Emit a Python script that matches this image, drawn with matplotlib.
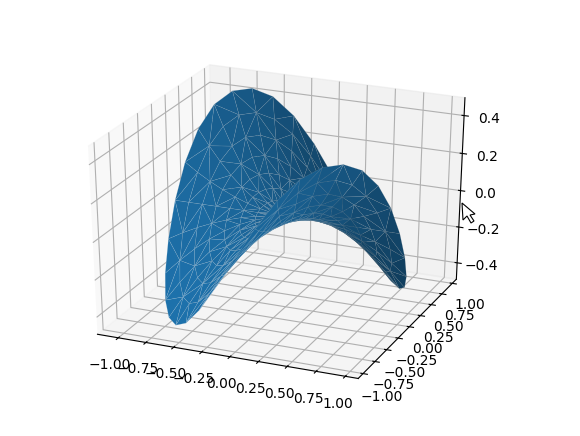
#!/usr/bin/env python3
# Triangulated saddle surface on a disk
import numpy as np
import matplotlib
matplotlib.use('Agg')
import matplotlib.pyplot as plt
from matplotlib.patches import Polygon

W, H = 580, 436

radii = [0.125, 0.25, 0.375, 0.5, 0.625, 0.75, 0.875, 1.0]
angles_deg = [0, 10, 20, 30, 40, 50, 60, 70, 80, 90, 100, 110, 120, 130, 140, 150, 160, 170,
              180, 190, 200, 210, 220, 230, 240, 250, 260, 270, 280, 290, 300, 310, 320, 330, 340, 350]
z_center = 0.0
# one row per ring, values estimated off the surface
z_rings = [
    [0, -.003, -.005, -.007, -.008, -.008, -.007, -.005, -.003, 0, .003, .005, .007, .008, .008, .007, .005, .003,
     0, -.003, -.005, -.007, -.008, -.008, -.007, -.005, -.003, 0, .003, .005, .007, .008, .008, .007, .005, .003],
    [0, -.011, -.020, -.027, -.031, -.031, -.027, -.020, -.011, 0, .011, .020, .027, .031, .031, .027, .020, .011,
     0, -.011, -.020, -.027, -.031, -.031, -.027, -.020, -.011, 0, .011, .020, .027, .031, .031, .027, .020, .011],
    [0, -.024, -.045, -.061, -.069, -.069, -.061, -.045, -.024, 0, .024, .045, .061, .069, .069, .061, .045, .024,
     0, -.024, -.045, -.061, -.069, -.069, -.061, -.045, -.024, 0, .024, .045, .061, .069, .069, .061, .045, .024],
    [0, -.043, -.080, -.108, -.123, -.123, -.108, -.080, -.043, 0, .043, .080, .108, .123, .123, .108, .080, .043,
     0, -.043, -.080, -.108, -.123, -.123, -.108, -.080, -.043, 0, .043, .080, .108, .123, .123, .108, .080, .043],
    [0, -.067, -.125, -.168, -.191, -.191, -.168, -.125, -.067, 0, .067, .125, .168, .191, .191, .168, .125, .067,
     0, -.067, -.125, -.168, -.191, -.191, -.168, -.125, -.067, 0, .067, .125, .168, .191, .191, .168, .125, .067],
    [0, -.096, -.180, -.241, -.273, -.273, -.241, -.180, -.096, 0, .096, .180, .241, .273, .273, .241, .180, .096,
     0, -.096, -.180, -.241, -.273, -.273, -.241, -.180, -.096, 0, .096, .180, .241, .273, .273, .241, .180, .096],
    [0, -.130, -.244, -.325, -.368, -.368, -.325, -.244, -.130, 0, .130, .244, .325, .368, .368, .325, .244, .130,
     0, -.130, -.244, -.325, -.368, -.368, -.325, -.244, -.130, 0, .130, .244, .325, .368, .368, .325, .244, .130],
    [0, -.170, -.316, -.420, -.471, -.471, -.420, -.316, -.170, 0, .170, .316, .420, .471, .471, .420, .316, .170,
     0, -.170, -.316, -.420, -.471, -.471, -.420, -.316, -.170, 0, .170, .316, .420, .471, .471, .420, .316, .170],
]
xy_ticks = [-1.0, -0.75, -0.5, -0.25, 0.0, 0.25, 0.5, 0.75, 1.0]
xy_labels = ['\u22121.00', '\u22120.75', '\u22120.50', '\u22120.25', '0.00', '0.25', '0.50', '0.75', '1.00']
z_ticks = [-0.4, -0.2, 0.0, 0.2, 0.4]
cursor_px = [(462, 203), (463, 220), (467, 216), (471, 223), (474, 221), (470, 215), (475, 214)]

# polar rings to x, y
th = np.radians(angles_deg)
rr = np.array(radii)[:, None]
x = np.append(0, (rr * np.cos(th)).flatten())
y = np.append(0, (rr * np.sin(th)).flatten())
z = np.append(z_center, np.array(z_rings).flatten())

fig = plt.figure(figsize=(W / 100, H / 100), dpi=100)
# same size as the default 3d axes on a 640x480 figure
ax = fig.add_axes([26.5 / W, 30 / H, 496 / W, 370 / H], projection='3d')
ax.plot_trisurf(x, y, z, linewidth=0.3, antialiased=True, edgecolors=(0.75, 0.85, 0.92, 0.35))

# old mplot3d look: unit cube stretched to fill the axes
ax.set_box_aspect((1, 1, 1), zoom=0.95)
ax.apply_aspect = lambda position=None: None
ax.view_init(elev=28, azim=-67)

ax.set_xlim(-1.19, 1.11)
ax.set_ylim(-1.1, 1.1)
ax.set_zlim(-0.493, 0.493)
ax.set_xticks(xy_ticks, xy_labels)
ax.set_yticks(xy_ticks, xy_labels)
ax.set_zticks(z_ticks)

fig.add_artist(Polygon([(px / W, 1 - py / H) for px, py in cursor_px], closed=True, transform=fig.transFigure,
                       facecolor='white', edgecolor='black', linewidth=0.8, zorder=10))

fig.savefig('out.png', dpi=100)
